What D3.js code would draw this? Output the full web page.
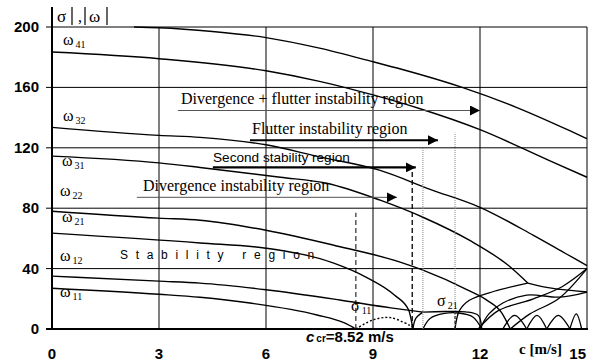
<!DOCTYPE html>
<html>
<head>
<meta charset="utf-8">
<script src="https://cdn.jsdelivr.net/npm/d3@7"></script>
<style>
body { margin: 0; background: #fff; }
</style>
</head>
<body>
<div id="canvas"></div>
<script>
var w = 594;
var h = 364;

var xTicks = [0, 3, 6, 9, 12, 15];
var yTicks = [0, 40, 80, 120, 160, 200];
var cCritical = 8.52;

// branches, [c, |w| or |sigma|]
var omegaTop = [[2.3,200],[3,199.5],[4.5,197],[6,193],[7.5,186],[9,177],[9.8,172],[11.5,160],[13,147],[14.5,131.5],[15,126]];
var omega41 = [[0,183.4],[3,179],[6,171],[7.5,164],[9,155],[10.3,146],[12,132],[13.9,112],[15,100.5]];
var omega32 = [[0,133.5],[3,128.2],[4.15,126.9],[6,122],[7.5,114],[9.2,105],[10.6,92.5],[12,80.6],[13.5,62],[14.4,50],[15,42]];
var omega31 = [[0,114.5],[3,110],[4.15,107],[6.4,100.5],[7.7,96.5],[9.2,85.3],[10.4,74],[11.7,58.8],[12.8,42],[13.34,30.4]];
var omega22 = [[0,78],[3,73.4],[4.15,72],[6,65.4],[7.9,55.5],[9.76,44.3],[10.4,39],[11.66,25.8],[12.2,19],[12.6,11],[12.85,0]];
var omega21 = [[0,63.5],[4.15,57],[6,53.5],[7.9,43.6],[8.8,34.4],[9.6,22.5],[10.0,12.6],[10.12,0]];
var omega12 = [[0,35],[3,31.7],[4.15,30.4],[6,26],[8.07,19.2],[9.5,14],[10.4,11.2]];
var omega11 = [[0,27],[3,23],[4.15,21],[5.55,17.2],[7.43,9.3],[8.2,4],[8.52,0]];
var sigma11 = [[8.52,0],[9,6],[9.5,7.5],[10.1,1.5]];

// coupled / re-emerging branches beyond c = 10
var reEmerge11 = [[10.12,0],[10.2,7],[10.4,11.2]];
var coupled21 = [[10.4,11.2],[11,11.6],[11.6,11.4],[11.95,9],[12.05,0]];
var sigma21 = [[10.4,0],[10.6,7],[11,10.3],[11.4,10.6],[11.8,8],[12.05,0]];
var reEmerge22 = [[11.3,0],[11.42,12],[11.7,19],[12.4,25],[13.34,30.4]];
var coupled31 = [[13.34,30.4],[14,27],[15,24.5]];
var sigma31 = [[12.0,0],[12.25,10],[12.64,17.2],[13.31,22.5],[14.24,21.1],[15,24.5]];
var rise1 = [[11.95,0],[12.5,12],[13.5,20],[14.3,28],[15,40]];
var rise2 = [[12.85,0],[13.4,10],[14.2,20],[15,40]];
var hump1 = [[12.64,0],[12.97,9],[13.31,0]];
var hump2 = [[13.31,0],[13.6,9],[13.87,0]];
var hump3 = [[13.87,0],[14.2,9],[14.52,0]];
var hump4 = [[14.52,0],[14.7,10],[14.85,0]];

var svg = d3.select("#canvas").append("svg")
        .attr("width", w)
        .attr("height", h)
        .style("background-color", "#fff");

var x = d3.scaleLinear().domain([0, 15]).range([52, 587]);
var y = d3.scaleLinear().domain([0, 200]).range([329, 27]);

// grid
svg.selectAll("line.vgrid")
    .data(xTicks.slice(1))
    .join("line")
    .attr("class", "vgrid")
    .attr("x1", function(d){ return x(d); })
    .attr("x2", function(d){ return x(d); })
    .attr("y1", y(0))
    .attr("y2", y(200))
    .attr("stroke", "#000")
    .attr("stroke-width", 1);

svg.selectAll("line.hgrid")
    .data(yTicks.slice(1))
    .join("line")
    .attr("class", "hgrid")
    .attr("x1", 46)
    .attr("x2", x(15))
    .attr("y1", function(d){ return y(d); })
    .attr("y2", function(d){ return y(d); })
    .attr("stroke", "#000")
    .attr("stroke-width", 1);

// axes
svg.append("line").attr("x1", x(0)).attr("x2", x(0)).attr("y1", 7).attr("y2", y(0) + 1)
    .attr("stroke", "#000").attr("stroke-width", 2);
svg.append("line").attr("x1", 46).attr("x2", x(15) + 1).attr("y1", y(0)).attr("y2", y(0))
    .attr("stroke", "#000").attr("stroke-width", 2);

svg.selectAll("text.ylab")
    .data(yTicks)
    .join("text")
    .attr("class", "ylab")
    .attr("x", 39)
    .attr("y", function(d){ return y(d) + 5; })
    .attr("text-anchor", "end")
    .style("font", "bold 15px 'Liberation Sans', Arial, sans-serif")
    .text(function(d){ return d; });

svg.selectAll("text.xlab")
    .data(xTicks)
    .join("text")
    .attr("class", "xlab")
    .attr("x", function(d, i){ return i == xTicks.length - 1 ? x(d) - 1 : x(d); })
    .attr("y", 359)
    .attr("text-anchor", function(d, i){ return i == xTicks.length - 1 ? "end" : "middle"; })
    .style("font", "bold 15px 'Liberation Sans', Arial, sans-serif")
    .text(function(d){ return d; });

// y axis title |sigma|, |omega|
var bars = [72, 85, 107];
svg.selectAll("line.bar").data(bars).join("line")
    .attr("x1", function(d){ return d; }).attr("x2", function(d){ return d; })
    .attr("y1", 7).attr("y2", 25).attr("stroke", "#000").attr("stroke-width", 1.2);
svg.append("text").attr("x", 57).attr("y", 22)
    .style("font", "17px 'Liberation Serif', serif").text("σ");
svg.append("text").attr("x", 78).attr("y", 22)
    .style("font", "16px 'Liberation Serif', serif").text(",");
svg.append("text").attr("x", 89).attr("y", 22)
    .style("font", "17px 'Liberation Serif', serif").text("ω");

// curves
var line = d3.line()
    .x(function(d){ return x(d[0]); })
    .y(function(d){ return y(d[1]); })
    .curve(d3.curveMonotoneX);
var arc = d3.line()
    .x(function(d){ return x(d[0]); })
    .y(function(d){ return y(d[1]); })
    .curve(d3.curveCatmullRom);

var solid = [omegaTop, omega41, omega32, omega31, omega22, omega21, omega12, omega11];
svg.selectAll("path.omega")
    .data(solid)
    .join("path")
    .attr("class", "omega")
    .attr("d", line)
    .attr("fill", "none")
    .attr("stroke", "#000")
    .attr("stroke-width", 1.4);

var tangle = [reEmerge11, coupled21, sigma21, reEmerge22, coupled31, sigma31, rise1, rise2, hump1, hump2, hump3, hump4];
svg.selectAll("path.tangle")
    .data(tangle)
    .join("path")
    .attr("class", "tangle")
    .attr("d", arc)
    .attr("fill", "none")
    .attr("stroke", "#000")
    .attr("stroke-width", 1.3);

svg.append("path")
    .attr("d", arc(sigma11))
    .attr("fill", "none")
    .attr("stroke", "#000")
    .attr("stroke-width", 1.4)
    .attr("stroke-dasharray", "2,2");

// dashed / dotted markers
svg.append("line").attr("x1", x(cCritical)).attr("x2", x(cCritical))
    .attr("y1", y(0)).attr("y2", y(77)).attr("stroke", "#000").attr("stroke-dasharray", "5,3");
svg.append("line").attr("x1", x(10.1)).attr("x2", x(10.1))
    .attr("y1", y(0)).attr("y2", y(106)).attr("stroke", "#000").attr("stroke-width", 1.3).attr("stroke-dasharray", "5,3");
svg.append("line").attr("x1", x(10.4)).attr("x2", x(10.4))
    .attr("y1", y(0)).attr("y2", y(120)).attr("stroke", "#888").attr("stroke-dasharray", "1,1");
svg.append("line").attr("x1", x(11.3)).attr("x2", x(11.3))
    .attr("y1", y(0)).attr("y2", y(130)).attr("stroke", "#888").attr("stroke-dasharray", "1,1");
svg.append("line").attr("x1", x(11.3)).attr("x2", x(11.3))
    .attr("y1", y(0)).attr("y2", y(11)).attr("stroke", "#000").attr("stroke-dasharray", "3,2");

// region arrows
svg.append("defs").append("marker")
    .attr("id", "head").attr("viewBox", "0 0 10 10")
    .attr("refX", 10).attr("refY", 5)
    .attr("markerWidth", 10).attr("markerHeight", 10)
    .attr("markerUnits", "userSpaceOnUse")
    .attr("orient", "auto")
    .append("path").attr("d", "M0,0L10,5L0,10z").attr("fill", "#000");

var arrows = [
  {c0: 3.53, c1: 12, v: 144.7, wd: 1, col: "#555"},
  {c0: 5.55, c1: 10.82, v: 125, wd: 2.2, col: "#000"},
  {c0: 4.51, c1: 10.2, v: 107, wd: 2.2, col: "#000"},
  {c0: 2.38, c1: 9.67, v: 87.2, wd: 1, col: "#555"}
];
svg.selectAll("line.arrow")
    .data(arrows)
    .join("line")
    .attr("class", "arrow")
    .attr("x1", function(d){ return x(d.c0); })
    .attr("x2", function(d){ return x(d.c1); })
    .attr("y1", function(d){ return y(d.v); })
    .attr("y2", function(d){ return y(d.v); })
    .attr("stroke", function(d){ return d.col; })
    .attr("stroke-width", function(d){ return d.wd; })
    .attr("marker-end", "url(#head)");

var serif = "16px 'Liberation Serif', 'Times New Roman', serif";
var sans = "13.6px 'Liberation Sans', Arial, sans-serif";
svg.append("text").attr("x", 181).attr("y", 104).style("font", serif)
    .text("Divergence + flutter instability region");
svg.append("text").attr("x", 252).attr("y", 134).style("font", serif)
    .text("Flutter instability region");
svg.append("text").attr("x", 213).attr("y", 162).style("font", sans)
    .text("Second stability region");
svg.append("text").attr("x", 143).attr("y", 191).style("font", serif)
    .text("Divergence instability region");
svg.append("text").attr("x", 120).attr("y", 259).style("font", "12px 'Liberation Sans', Arial, sans-serif")
    .style("letter-spacing", "7.7px")
    .text("Stability region");

// mode labels
var labels = [
  {t: "41", lx: 63, ly: 45},
  {t: "32", lx: 63, ly: 121},
  {t: "31", lx: 62, ly: 166},
  {t: "22", lx: 60, ly: 196},
  {t: "21", lx: 62, ly: 222},
  {t: "12", lx: 60, ly: 261},
  {t: "11", lx: 60, ly: 297}
];
var lab = svg.selectAll("text.mode")
    .data(labels)
    .join("text")
    .attr("class", "mode")
    .attr("x", function(d){ return d.lx; })
    .attr("y", function(d){ return d.ly; })
    .style("font", "16px 'Liberation Serif', serif");
lab.append("tspan").text("ω");
lab.append("tspan").attr("dx", 2).attr("dy", 3).style("font-size", "10px")
    .text(function(d){ return d.t; });

var sig = svg.selectAll("text.sig")
    .data([{t: "11", lx: 351, ly: 311}, {t: "21", lx: 437, ly: 306}])
    .join("text")
    .attr("class", "sig")
    .attr("x", function(d){ return d.lx; })
    .attr("y", function(d){ return d.ly; })
    .style("font", "16px 'Liberation Serif', serif");
sig.append("tspan").text("σ");
sig.append("tspan").attr("dx", 2).attr("dy", 3).style("font-size", "10px")
    .text(function(d){ return d.t; });

// critical speed and axis title
var cc = svg.append("text").attr("x", 306).attr("y", 342)
    .style("font", "bold 15px 'Liberation Sans', Arial, sans-serif");
cc.append("tspan").style("font-style", "italic").text("c");
cc.append("tspan").attr("dx", 2).style("font-size", "10px").text("cr");
cc.append("tspan").text("=" + cCritical + " m/s");

svg.append("text").attr("x", 519).attr("y", 354)
    .style("font", "bold 15px 'Liberation Serif', serif")
    .text("c [m/s]");
</script>
</body>
</html>
